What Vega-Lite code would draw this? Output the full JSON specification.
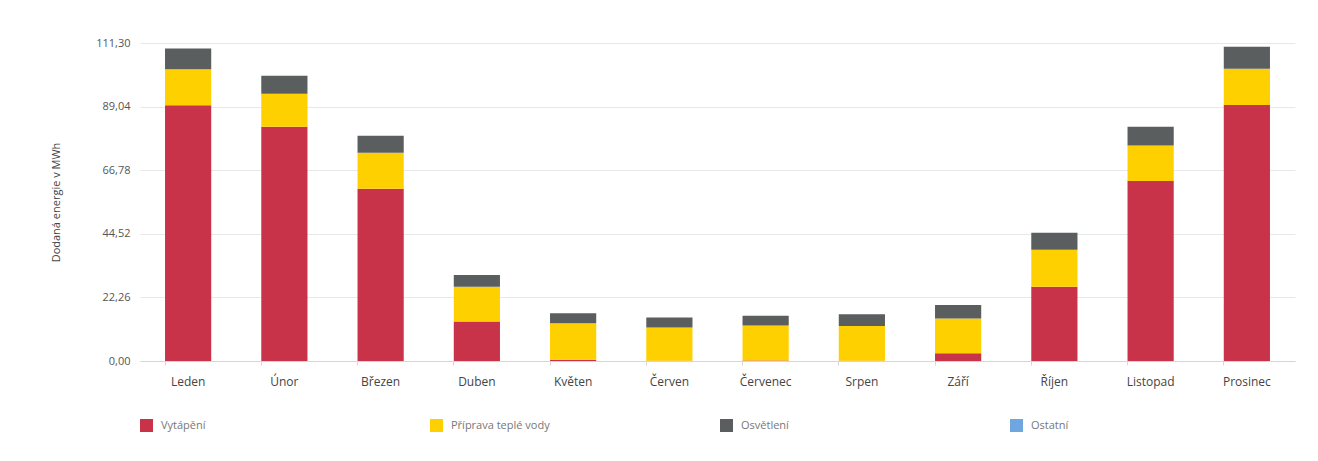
{
  "$schema": "https://vega.github.io/schema/vega-lite/v6.json",
  "width": 1155,
  "height": 318,
  "autosize": {"type": "none"},
  "padding": {"left": 140, "top": 43, "right": 23, "bottom": 100},
  "background": "white",
  "config": {
    "view": {"stroke": null},
    "font": "Open Sans"
  },
  "data": {
    "values": [
      {"mesic": "Leden", "kat": "Vytápění", "o": 1, "v": 89.5},
      {"mesic": "Leden", "kat": "Příprava teplé vody", "o": 2, "v": 12.6},
      {"mesic": "Leden", "kat": "Osvětlení", "o": 3, "v": 7.3},
      {"mesic": "Leden", "kat": "Ostatní", "o": 4, "v": 0},
      {"mesic": "Únor", "kat": "Vytápění", "o": 1, "v": 82.0},
      {"mesic": "Únor", "kat": "Příprava teplé vody", "o": 2, "v": 11.5},
      {"mesic": "Únor", "kat": "Osvětlení", "o": 3, "v": 6.3},
      {"mesic": "Únor", "kat": "Ostatní", "o": 4, "v": 0},
      {"mesic": "Březen", "kat": "Vytápění", "o": 1, "v": 60.3},
      {"mesic": "Březen", "kat": "Příprava teplé vody", "o": 2, "v": 12.6},
      {"mesic": "Březen", "kat": "Osvětlení", "o": 3, "v": 5.9},
      {"mesic": "Březen", "kat": "Ostatní", "o": 4, "v": 0},
      {"mesic": "Duben", "kat": "Vytápění", "o": 1, "v": 13.8},
      {"mesic": "Duben", "kat": "Příprava teplé vody", "o": 2, "v": 12.2},
      {"mesic": "Duben", "kat": "Osvětlení", "o": 3, "v": 4.1},
      {"mesic": "Duben", "kat": "Ostatní", "o": 4, "v": 0},
      {"mesic": "Květen", "kat": "Vytápění", "o": 1, "v": 0.4},
      {"mesic": "Květen", "kat": "Příprava teplé vody", "o": 2, "v": 12.8},
      {"mesic": "Květen", "kat": "Osvětlení", "o": 3, "v": 3.5},
      {"mesic": "Květen", "kat": "Ostatní", "o": 4, "v": 0},
      {"mesic": "Červen", "kat": "Vytápění", "o": 1, "v": 0.1},
      {"mesic": "Červen", "kat": "Příprava teplé vody", "o": 2, "v": 11.6},
      {"mesic": "Červen", "kat": "Osvětlení", "o": 3, "v": 3.5},
      {"mesic": "Červen", "kat": "Ostatní", "o": 4, "v": 0},
      {"mesic": "Červenec", "kat": "Vytápění", "o": 1, "v": 0.2},
      {"mesic": "Červenec", "kat": "Příprava teplé vody", "o": 2, "v": 12.2},
      {"mesic": "Červenec", "kat": "Osvětlení", "o": 3, "v": 3.4},
      {"mesic": "Červenec", "kat": "Ostatní", "o": 4, "v": 0},
      {"mesic": "Srpen", "kat": "Vytápění", "o": 1, "v": 0.1},
      {"mesic": "Srpen", "kat": "Příprava teplé vody", "o": 2, "v": 12.15},
      {"mesic": "Srpen", "kat": "Osvětlení", "o": 3, "v": 4.1},
      {"mesic": "Srpen", "kat": "Ostatní", "o": 4, "v": 0},
      {"mesic": "Září", "kat": "Vytápění", "o": 1, "v": 2.7},
      {"mesic": "Září", "kat": "Příprava teplé vody", "o": 2, "v": 12.2},
      {"mesic": "Září", "kat": "Osvětlení", "o": 3, "v": 4.7},
      {"mesic": "Září", "kat": "Ostatní", "o": 4, "v": 0},
      {"mesic": "Říjen", "kat": "Vytápění", "o": 1, "v": 26.0},
      {"mesic": "Říjen", "kat": "Příprava teplé vody", "o": 2, "v": 12.9},
      {"mesic": "Říjen", "kat": "Osvětlení", "o": 3, "v": 6.0},
      {"mesic": "Říjen", "kat": "Ostatní", "o": 4, "v": 0},
      {"mesic": "Listopad", "kat": "Vytápění", "o": 1, "v": 63.0},
      {"mesic": "Listopad", "kat": "Příprava teplé vody", "o": 2, "v": 12.4},
      {"mesic": "Listopad", "kat": "Osvětlení", "o": 3, "v": 6.6},
      {"mesic": "Listopad", "kat": "Ostatní", "o": 4, "v": 0},
      {"mesic": "Prosinec", "kat": "Vytápění", "o": 1, "v": 89.6},
      {"mesic": "Prosinec", "kat": "Příprava teplé vody", "o": 2, "v": 12.7},
      {"mesic": "Prosinec", "kat": "Osvětlení", "o": 3, "v": 7.7},
      {"mesic": "Prosinec", "kat": "Ostatní", "o": 4, "v": 0}
    ]
  },
  "mark": {"type": "bar"},
  "encoding": {
    "x": {
      "field": "mesic",
      "type": "nominal",
      "sort": ["Leden", "Únor", "Březen", "Duben", "Květen", "Červen", "Červenec", "Srpen", "Září", "Říjen", "Listopad", "Prosinec"],
      "scale": {"paddingInner": 0.52, "paddingOuter": 0.26},
      "axis": {
        "title": null,
        "labelAngle": 0,
        "labelFont": "Open Sans",
        "labelFontSize": 12,
        "labelColor": "#444444",
        "labelPadding": 11,
        "bandPosition": 0,
        "ticks": true,
        "tickSize": 4,
        "tickColor": "#d6d6d6",
        "domain": true,
        "domainColor": "#d6d6d6",
        "grid": false
      }
    },
    "y": {
      "field": "v",
      "type": "quantitative",
      "aggregate": "sum",
      "stack": "zero",
      "scale": {"domain": [0, 111.3], "nice": false},
      "axis": {
        "title": "Dodaná energie v MWh",
        "titleFont": "Open Sans",
        "titleFontSize": 11,
        "titleFontWeight": "normal",
        "titleColor": "#444444",
        "titlePadding": 34,
        "values": [0, 22.26, 44.52, 66.78, 89.04, 111.3],
        "labelExpr": "replace(format(datum.value, '.2f'), '.', ',')",
        "labelFont": "Open Sans",
        "labelFontSize": 11,
        "labelColor": "#555555",
        "labelPadding": 10,
        "ticks": false,
        "domain": false,
        "grid": true,
        "gridColor": "#e8e8e8"
      }
    },
    "color": {
      "field": "kat",
      "type": "nominal",
      "scale": {
        "domain": ["Vytápění", "Příprava teplé vody", "Osvětlení", "Ostatní"],
        "range": ["#c8334a", "#ffd000", "#5a5e5e", "#6fa6e0"]
      },
      "legend": {
        "title": null,
        "orient": "none",
        "legendX": 0,
        "legendY": 376,
        "direction": "horizontal",
        "columns": 4,
        "gridAlign": "all",
        "columnPadding": 170,
        "symbolType": "square",
        "symbolSize": 169,
        "symbolStrokeWidth": 0,
        "labelFont": "Open Sans",
        "labelFontSize": 11,
        "labelColor": "#777777",
        "labelOffset": 8
      }
    },
    "order": {"field": "o", "type": "quantitative", "sort": "ascending"}
  }
}
